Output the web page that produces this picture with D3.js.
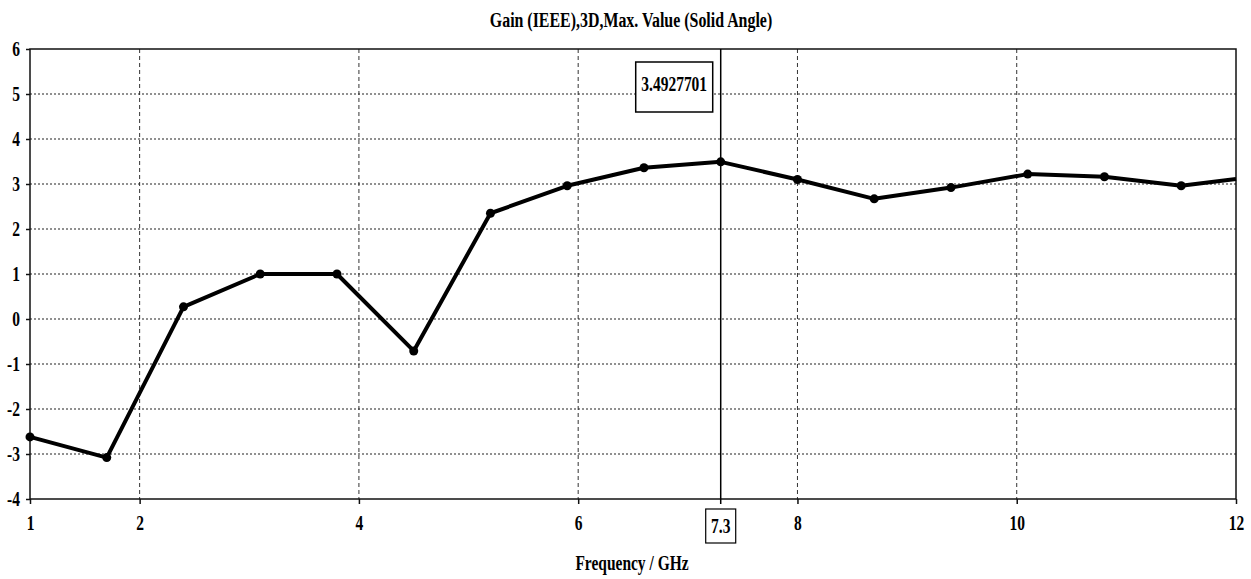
<!DOCTYPE html>
<html>
<head>
<meta charset="utf-8">
<script src="https://cdn.jsdelivr.net/npm/d3@7"></script>
<style>
  body { margin: 0; background: #fff; }
  text { font-family: "Liberation Serif", "Times New Roman", serif; font-weight: bold; fill: #000; }
</style>
</head>
<body>
<svg id="chart" width="1251" height="579"></svg>
<script>
// frequency (GHz) and gain values
var freq = [1, 1.7, 2.4, 3.1, 3.8, 4.5, 5.2, 5.9, 6.6, 7.3, 8.0, 8.7, 9.4, 10.1, 10.8, 11.5, 12]
var gain = [-2.62, -3.08, 0.27, 1.0, 1.0, -0.71, 2.35, 2.96, 3.36, 3.4927701, 3.1, 2.67, 2.92, 3.22, 3.16, 2.96, 3.11]
var xTicks = [1, 2, 4, 6, 8, 10, 12]
var yTicks = [6, 5, 4, 3, 2, 1, 0, -1, -2, -3, -4]
var markerFreq = 7.3
var markerLabel = "3.4927701"

var svg = d3.select("#chart")
var pL = 30, pR = 1236, pT = 49, pB = 499

var x = d3.scaleLinear().domain([1, 12]).range([pL, pR])
var y = d3.scaleLinear().domain([-4, 6]).range([pB, pT])

// tall narrow text like the original's condensed serif
function squeeze(sel, cx, cy) {
	sel.attr("transform", "translate(" + cx + "," + cy + ") scale(0.86,1.12)")
		.attr("x", 0).attr("y", 0)
}
// plain hyphen for negatives, as in the original
function plain(d) { return String(d) }

// grid
svg.selectAll("line.vgrid")
	.data(xTicks.filter(function (d) { return d > 1 && d < 12 }))
	.enter().append("line")
	.attr("x1", function (d) { return x(d) }).attr("x2", function (d) { return x(d) })
	.attr("y1", pT).attr("y2", pB)
	.attr("stroke", "#333").attr("stroke-width", 1).attr("stroke-dasharray", "4,3")

svg.selectAll("line.hgrid")
	.data(yTicks.filter(function (d) { return d > -4 && d < 6 }))
	.enter().append("line")
	.attr("x1", pL).attr("x2", pR)
	.attr("y1", function (d) { return y(d) }).attr("y2", function (d) { return y(d) })
	.attr("stroke", "#222").attr("stroke-width", 1.2).attr("stroke-dasharray", "2,2")

// frame
svg.append("rect")
	.attr("x", pL).attr("y", pT)
	.attr("width", pR - pL).attr("height", pB - pT)
	.attr("fill", "none").attr("stroke", "#111").attr("stroke-width", 1.5)

// axes
var xAxis = svg.append("g").attr("transform", "translate(0," + pB + ")")
	.call(d3.axisBottom(x).tickValues(xTicks).tickSize(5).tickPadding(14).tickFormat(plain))
xAxis.select(".domain").remove()
xAxis.selectAll("text").attr("font-size", 18).attr("transform", "scale(0.86,1.12)").attr("dy", "0.5em")

var yAxis = svg.append("g").attr("transform", "translate(" + pL + ",0)")
	.call(d3.axisLeft(y).tickValues(yTicks).tickSize(4).tickPadding(5).tickFormat(plain))
yAxis.select(".domain").remove()
yAxis.selectAll(".tick text").attr("font-size", 18).attr("x", null)
	.attr("transform", "translate(-10,0) scale(0.86,1.12)")
svg.selectAll(".tick line").attr("stroke", "#111").attr("stroke-width", 1.5)

// marker line
svg.append("line")
	.attr("x1", x(markerFreq)).attr("x2", x(markerFreq))
	.attr("y1", pT).attr("y2", pB + 5)
	.attr("stroke", "#000").attr("stroke-width", 1.5)

// curve
var line = d3.line()
	.x(function (d, i) { return x(freq[i]) })
	.y(function (d) { return y(d) })

svg.append("path")
	.datum(gain)
	.attr("d", line)
	.attr("fill", "none").attr("stroke", "#000").attr("stroke-width", 4)
	.attr("stroke-linejoin", "round")

svg.selectAll("circle.pt")
	.data(gain.slice(0, gain.length - 1))
	.enter().append("circle")
	.attr("cx", function (d, i) { return x(freq[i]) })
	.attr("cy", function (d) { return y(d) })
	.attr("r", 4.5).attr("fill", "#000")

// value box
var mx = x(markerFreq)
svg.append("rect")
	.attr("x", mx - 85).attr("y", 62).attr("width", 77).attr("height", 50)
	.attr("fill", "#fff").attr("stroke", "#000").attr("stroke-width", 1.5)
svg.append("text")
	.attr("text-anchor", "middle").attr("font-size", 18)
	.call(squeeze, mx - 46.5, 91)
	.text(markerLabel)

// x marker label
svg.append("rect")
	.attr("x", mx - 15).attr("y", 509).attr("width", 30).attr("height", 34)
	.attr("fill", "#fff").attr("stroke", "#000").attr("stroke-width", 1.2)
svg.append("text")
	.attr("text-anchor", "middle").attr("font-size", 18)
	.call(squeeze, mx, 533)
	.text(markerFreq)

// titles
svg.append("text")
	.attr("text-anchor", "middle").attr("font-size", 18.5)
	.call(squeeze, 631, 27)
	.text("Gain (IEEE),3D,Max. Value (Solid Angle)")

svg.append("text")
	.attr("text-anchor", "middle").attr("font-size", 18)
	.call(squeeze, 632, 570)
	.text("Frequency / GHz")
</script>
</body>
</html>
